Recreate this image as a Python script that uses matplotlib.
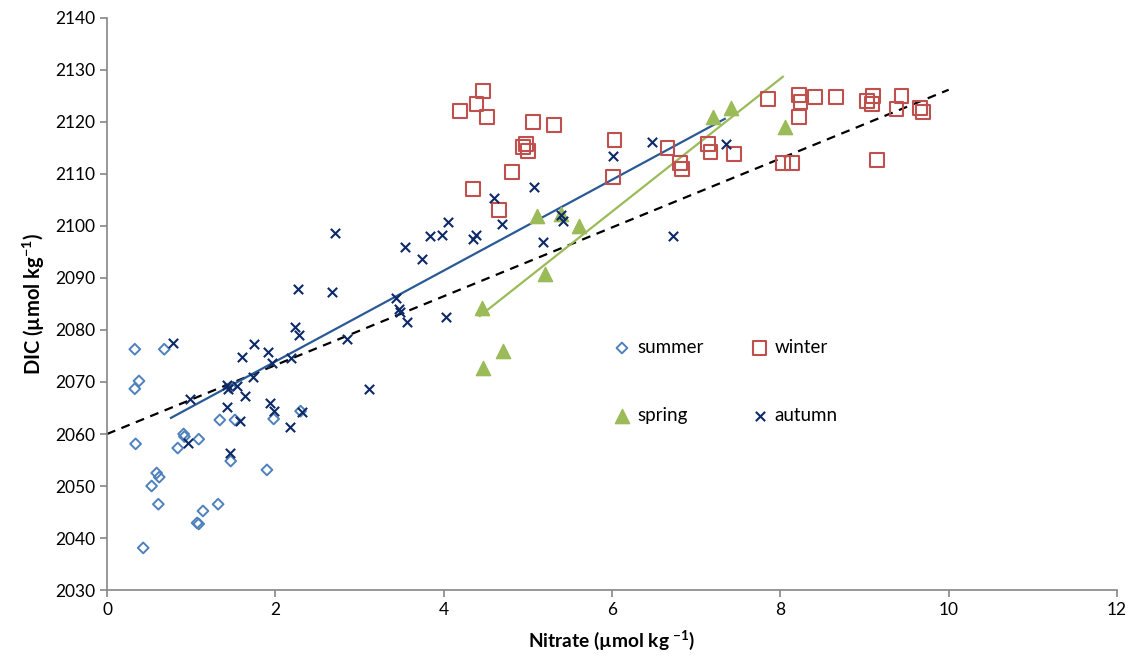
import numpy as np
import matplotlib
matplotlib.use('Agg')
import matplotlib.pyplot as plt

# nitrate (x) and DIC (y) by season
summer_x = [0.33, 0.68, 0.38, 0.33, 1.34, 1.52, 1.98, 2.30, 0.91, 0.92, 0.34, 0.84,
            1.09, 1.47, 1.90, 0.59, 0.62, 0.53, 0.61, 1.32, 1.14, 1.07, 1.09, 0.43, 1.47]
summer_y = [2076.3, 2076.3, 2070.2, 2068.7, 2062.7, 2062.7, 2062.9, 2064.4, 2060.0, 2059.5,
            2058.1, 2057.3, 2059.0, 2054.8, 2053.1, 2052.5, 2051.7, 2050.0, 2046.5, 2046.5,
            2045.2, 2042.9, 2042.7, 2038.1, 2069.0]

winter_x = [4.47, 4.19, 4.39, 4.52, 5.06, 5.31, 4.98, 4.94, 5.00, 4.81, 4.35, 4.66,
            6.03, 6.01, 6.66, 6.81, 6.83, 7.14, 7.17, 7.45, 7.85, 8.22, 8.24, 8.22,
            8.41, 8.66, 9.03, 9.10, 9.09, 9.44, 9.38, 9.66, 9.69, 9.15, 8.03, 8.14]
winter_y = [2126.0, 2122.1, 2123.5, 2121.0, 2120.0, 2119.4, 2115.8, 2115.2, 2114.4, 2110.4,
            2107.1, 2103.1, 2116.5, 2109.4, 2115.0, 2112.1, 2111.0, 2115.8, 2114.2, 2113.8,
            2124.4, 2125.2, 2123.8, 2121.0, 2124.8, 2124.8, 2124.0, 2125.0, 2123.5, 2125.0,
            2122.5, 2122.7, 2121.9, 2112.7, 2112.1, 2112.1]

spring_x = [7.20, 7.41, 5.11, 5.40, 5.61, 5.20, 4.45, 8.05, 4.70, 4.47]
spring_y = [2121.0, 2122.7, 2102.0, 2102.3, 2100.0, 2090.8, 2084.2, 2119.0, 2076.0, 2072.7]

autumn_x = [0.78, 0.99, 0.96, 1.46, 1.42, 1.44, 1.54, 1.42, 1.64, 1.58, 1.60, 1.75,
            1.73, 1.91, 1.96, 1.94, 1.98, 2.19, 2.17, 2.23, 2.28, 2.32, 2.85, 2.71,
            2.27, 2.67, 3.54, 3.84, 3.98, 3.74, 3.43, 3.47, 3.48, 3.56, 4.03, 3.11,
            4.05, 4.35, 4.38, 4.60, 4.69, 5.07, 5.18, 5.39, 5.42, 6.01, 6.47, 6.72, 7.36]
autumn_y = [2077.5, 2066.7, 2058.3, 2056.3, 2069.4, 2068.7, 2069.2, 2065.2, 2067.3, 2062.5,
            2074.8, 2077.3, 2071.0, 2075.8, 2073.7, 2066.0, 2064.4, 2074.6, 2061.3, 2080.6,
            2079.0, 2064.2, 2078.3, 2098.7, 2087.9, 2087.3, 2096.0, 2098.1, 2098.3, 2093.7,
            2086.2, 2084.0, 2083.5, 2081.5, 2082.5, 2068.7, 2100.8, 2097.5, 2098.3, 2105.4,
            2100.4, 2107.5, 2096.9, 2102.1, 2101.0, 2113.5, 2116.2, 2098.1, 2115.8]

# trend lines (end points)
all_fit_x = [0.0, 10.0]
all_fit_y = [2060.0, 2126.2]
autumn_fit_x = [0.76, 7.34]
autumn_fit_y = [2063.1, 2120.6]
spring_fit_x = [4.43, 8.03]
spring_fit_y = [2082.7, 2128.7]

plt.rcParams['font.family'] = ['Lato', 'DejaVu Sans']
plt.rcParams['mathtext.default'] = 'regular'

fig = plt.figure(figsize=(11.42, 6.66), dpi=100)
ax = fig.add_axes([0.0937, 0.1141, 0.8844, 0.8589])

ax.plot(all_fit_x, all_fit_y, color='black', lw=1.6, ls=(0, (4, 3)), zorder=1)
ax.plot(autumn_fit_x, autumn_fit_y, color='#2A5A96', lw=1.6, zorder=1)
ax.plot(spring_fit_x, spring_fit_y, color='#9BBB59', lw=1.6, zorder=1)

ax.scatter(summer_x, summer_y, marker='D', s=30, facecolors='none',
           edgecolors='#4F81BD', linewidths=1.4, label='summer', zorder=3)
ax.scatter(spring_x, spring_y, marker='^', s=105, color='#9BBB59',
           label='spring', zorder=3)
ax.scatter(winter_x, winter_y, marker='s', s=100, facecolors='none',
           edgecolors='#C0504D', linewidths=1.5, label='winter', zorder=3)
ax.scatter(autumn_x, autumn_y, marker='x', s=45, color='#0E2A66',
           linewidths=1.5, label='autumn', zorder=3)

ax.set_xlim(0, 12)
ax.set_ylim(2030, 2140)
ax.set_xticks(np.arange(0, 13, 2))
ax.set_yticks(np.arange(2030, 2141, 10))
for s in ['top', 'right']:
    ax.spines[s].set_visible(False)
for s in ['left', 'bottom']:
    ax.spines[s].set_color('#868686')
    ax.spines[s].set_linewidth(1.2)
ax.tick_params(colors='#868686', labelcolor='black', labelsize=12.5, length=5, width=1.2)

ax.set_xlabel('Nitrate (µmol kg $^{-1}$)', fontsize=13.8, fontweight='bold', labelpad=8)
ax.set_ylabel('DIC (µmol kg$^{-1}$)', fontsize=14.5, fontweight='bold', labelpad=6)

ax.legend(ncol=2, frameon=False, fontsize=13.5, loc='center',
          bbox_to_anchor=(0.612, 0.365), labelspacing=2.7, columnspacing=2.5,
          handlelength=1.0, handletextpad=0.3, scatterpoints=1)

plt.savefig('out.png', dpi=100)
plt.close()
